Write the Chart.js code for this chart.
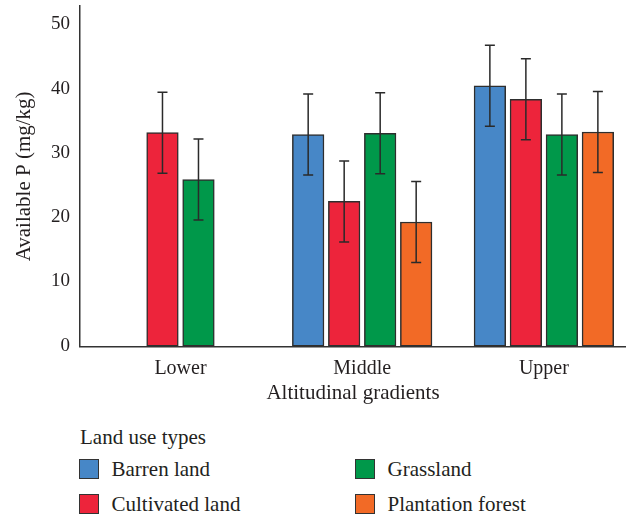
<!DOCTYPE html>
<html>
<head>
<meta charset="utf-8">
<script src="https://cdn.jsdelivr.net/npm/chart.js@4/dist/chart.umd.min.js"></script>
<style>
  html, body { margin: 0; padding: 0; background: #fff; }
  #wrap { position: relative; width: 626px; height: 519px; overflow: hidden;
          font-family: 'Liberation Serif', serif; color: #231f20; }
  #chart { position: absolute; left: 0; top: 0; }
  #legend-title { position: absolute; left: 80px; top: 427px; font-size: 21px; line-height: 20px; white-space: nowrap; }
  #legend { position: absolute; left: 79px; top: 459px; display: grid; grid-auto-flow: column;
            grid-template-rows: 20px 20px; row-gap: 15px; grid-template-columns: 276px 220px; }
  .item { display: flex; align-items: center; font-size: 21px; line-height: 20px; white-space: nowrap; }
  .swatch { box-sizing: border-box; width: 20px; height: 20px; border: 1.5px solid #333; margin-right: 12.5px; flex: none; }
</style>
</head>
<body>
<div id="wrap">
  <canvas id="chart" width="626" height="420"></canvas>
  <div id="legend-title">Land use types</div>
  <div id="legend"></div>
</div>
<script>
// Altitudinal gradients on the x axis
const categories = ['Lower', 'Middle', 'Upper'];

// Mean available P (mg/kg) for each land use type
const barrenLand       = [null, 33.0, 40.6];
const cultivatedLand   = [33.3, 22.6, 38.5];
const grassland        = [26.0, 33.2, 33.0];
const plantationForest = [null, 19.4, 33.4];

// Error bar half-lengths (mg/kg)
const barrenLandErr       = [null, 6.3, 6.3];
const cultivatedLandErr   = [6.3, 6.3, 6.3];
const grasslandErr        = [6.3, 6.3, 6.3];
const plantationForestErr = [null, 6.3, 6.3];

const yTicks = [0, 10, 20, 30, 40, 50];

const seriesNames = ['Barren land', 'Cultivated land', 'Grassland', 'Plantation forest'];
const seriesValues = [barrenLand, cultivatedLand, grassland, plantationForest];
const seriesErrors = [barrenLandErr, cultivatedLandErr, grasslandErr, plantationForestErr];
const seriesColors = ['#4787c7', '#ed243b', '#00984a', '#f26a26'];

const INK = '#231f20';
Chart.defaults.font.family = "'Liberation Serif', serif";
Chart.defaults.color = INK;

// Whiskers drawn on top of each bar from the value and its error
const errorBars = {
  id: 'errorBars',
  afterDatasetsDraw(chart) {
    const { ctx, scales: { y } } = chart;
    ctx.save();
    ctx.strokeStyle = '#2a2a2a';
    ctx.lineWidth = 1.5;
    chart.data.datasets.forEach((ds, di) => {
      const meta = chart.getDatasetMeta(di);
      if (meta.hidden) return;
      meta.data.forEach((bar, i) => {
        const v = ds.data[i].y, e = ds.errors[i];
        if (v == null || e == null) return;
        const top = y.getPixelForValue(v + e);
        const bot = y.getPixelForValue(v - e);
        const half = 5;
        ctx.beginPath();
        ctx.moveTo(bar.x, top); ctx.lineTo(bar.x, bot);
        ctx.moveTo(bar.x - half, top); ctx.lineTo(bar.x + half, top);
        ctx.moveTo(bar.x - half, bot); ctx.lineTo(bar.x + half, bot);
        ctx.stroke();
      });
    });
    ctx.restore();
  }
};

// Two-column legend below the chart, built from the chart's own legend items
const htmlLegend = {
  id: 'htmlLegend',
  afterUpdate(chart) {
    const box = document.getElementById('legend');
    box.innerHTML = '';
    const items = chart.options.plugins.legend.labels.generateLabels(chart);
    items.forEach(item => {
      const row = document.createElement('div');
      row.className = 'item';
      const sw = document.createElement('span');
      sw.className = 'swatch';
      sw.style.background = item.fillStyle;
      const label = document.createElement('span');
      label.textContent = item.text;
      row.appendChild(sw);
      row.appendChild(label);
      box.appendChild(row);
    });
  }
};

const datasets = seriesNames.map((name, s) => ({
  label: name,
  data: seriesValues[s].map((v, i) => ({ x: i, y: v })),
  errors: seriesErrors[s],
  backgroundColor: seriesColors[s],
  borderColor: '#2e2e2e',
  borderWidth: 1.5,
  borderSkipped: false,
  skipNull: true,
  barThickness: 36,
  maxBarThickness: 31.6
}));

new Chart(document.getElementById('chart'), {
  type: 'bar',
  data: { datasets },
  plugins: [errorBars, htmlLegend],
  options: {
    responsive: false,
    animation: false,
    layout: { padding: { top: 6, right: 0, bottom: 0, left: 0 } },
    plugins: { legend: { display: false }, tooltip: { enabled: false } },
    scales: {
      x: {
        type: 'linear',
        offset: false,
        min: -0.553,
        max: 2.452,
        bounds: 'data',
        afterBuildTicks: scale => { scale.ticks = categories.map((c, i) => ({ value: i })); },
        afterFit: scale => { scale.height = 73.3; scale.paddingLeft = 0; scale.paddingRight = 0; },
        grid: { display: true, drawOnChartArea: false, drawTicks: false },
        border: { display: true, color: '#333', width: 1.5 },
        ticks: {
          autoSkip: false, maxRotation: 0, padding: 9.6,
          font: { size: 20 }, color: INK,
          callback: v => categories[v] ?? ''
        },
        title: {
          display: true, text: 'Altitudinal gradients',
          font: { size: 21 }, color: INK,
          padding: { top: 0, bottom: 14 }
        }
      },
      y: {
        min: 0,
        max: 53,
        afterBuildTicks: scale => { scale.ticks = yTicks.map(v => ({ value: v })); },
        afterFit: scale => { scale.width = 80; scale.paddingTop = 0; scale.paddingBottom = 0; },
        grid: { display: true, drawOnChartArea: false, drawTicks: false },
        border: { display: true, color: '#333', width: 1.5 },
        ticks: { padding: 10, labelOffset: -1, font: { size: 19 }, color: INK },
        title: {
          display: true, text: 'Available P (mg/kg)',
          font: { size: 21 }, color: INK,
          padding: { top: 12, bottom: 0 }
        }
      }
    }
  }
});
</script>
</body>
</html>
